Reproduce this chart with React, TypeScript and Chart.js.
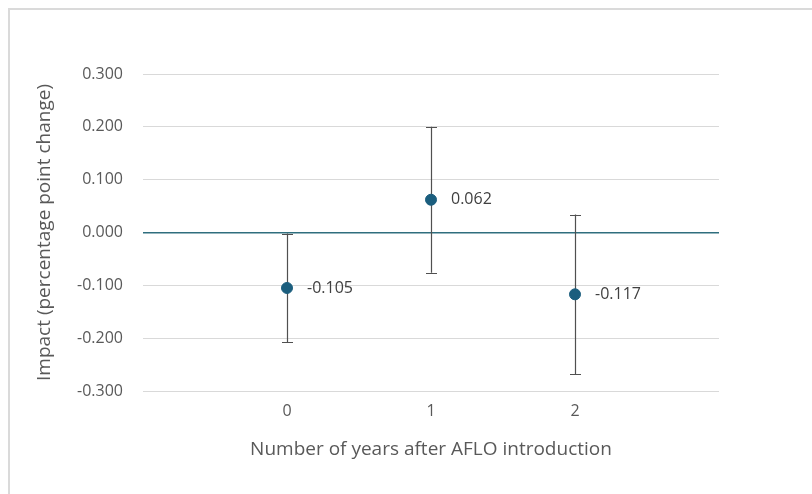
import React, { useEffect, useRef } from "react";
import { Chart, registerables } from "chart.js";

Chart.register(...registerables);

const years = [0, 1, 2];
const impact = [-0.105, 0.062, -0.117];
const errorHalfWidth = [0.103, 0.138, 0.151];
const yTicks = [-0.3, -0.2, -0.1, 0, 0.1, 0.2, 0.3];
const xTitle = "Number of years after AFLO introduction";
const yTitle = "Impact (percentage point change)";

const FONT = "'Open Sans', 'Noto Sans', sans-serif";
const POINT_COLOR = "#1B5E7E";
const ZERO_COLOR = "#2F6E7E";
const GRID_COLOR = "#D9D9D9";
const TEXT_COLOR = "#595959";

const errorBarPlugin = {
  id: "errorBars",
  beforeDatasetsDraw(chart: any) {
    const { ctx, scales } = chart;
    const xs = scales.x;
    const ys = scales.y;
    ctx.save();
    ctx.strokeStyle = "#505050";
    ctx.lineWidth = 1.2;
    years.forEach((x, i) => {
      const px = Math.round(xs.getPixelForValue(x)) + 0.5;
      const top = ys.getPixelForValue(impact[i] + errorHalfWidth[i]);
      const bot = ys.getPixelForValue(impact[i] - errorHalfWidth[i]);
      ctx.beginPath();
      ctx.moveTo(px, top);
      ctx.lineTo(px, bot);
      ctx.moveTo(px - 5.5, Math.round(top) + 0.5);
      ctx.lineTo(px + 5.5, Math.round(top) + 0.5);
      ctx.moveTo(px - 5.5, Math.round(bot) + 0.5);
      ctx.lineTo(px + 5.5, Math.round(bot) + 0.5);
      ctx.stroke();
    });
    ctx.restore();
  },
  afterDatasetsDraw(chart: any) {
    const { ctx, scales } = chart;
    ctx.save();
    ctx.fillStyle = "#404040";
    ctx.font = `16px ${FONT}`;
    ctx.textBaseline = "middle";
    ctx.textAlign = "left";
    years.forEach((x, i) => {
      const px = scales.x.getPixelForValue(x);
      const py = scales.y.getPixelForValue(impact[i]);
      ctx.fillText(impact[i].toFixed(3), px + 20, py);
    });
    ctx.restore();
  },
};

export default function App() {
  const ref = useRef<HTMLCanvasElement>(null);
  useEffect(() => {
    if (!ref.current) return;
    const chart = new Chart(ref.current, {
      type: "scatter",
      data: {
        datasets: [
          {
            data: years.map((x, i) => ({ x, y: impact[i] })),
            backgroundColor: POINT_COLOR,
            borderColor: POINT_COLOR,
            pointRadius: 5.5,
            pointHoverRadius: 5.5,
          },
        ],
      },
      options: {
        animation: false,
        responsive: false,
        devicePixelRatio: 1,
        layout: { padding: { top: 64, right: 93, left: 0, bottom: 0 } },
        plugins: {
          legend: { display: false },
          tooltip: { enabled: false },
        },
        scales: {
          x: {
            type: "linear",
            min: -1,
            max: 3,
            afterBuildTicks: (scale: any) => {
              scale.ticks = years.map((v) => ({ value: v }));
            },
            afterFit: (scale: any) => {
              scale.height = 103;
            },
            grid: { display: false, drawTicks: false },
            border: { display: false },
            ticks: {
              color: TEXT_COLOR,
              font: { family: FONT, size: 16 },
              padding: 11,
              callback: (v: any) => String(v),
            },
            title: {
              display: true,
              text: xTitle,
              color: TEXT_COLOR,
              font: { family: FONT, size: 19 },
              padding: { top: 0, bottom: 33 },
            },
          },
          y: {
            type: "linear",
            min: -0.3,
            max: 0.3,
            afterBuildTicks: (scale: any) => {
              scale.ticks = yTicks.map((v) => ({ value: v }));
            },
            afterFit: (scale: any) => {
              scale.width = 133;
            },
            grid: {
              drawTicks: false,
              color: (c: any) => (Math.abs(c.tick.value) < 1e-9 ? ZERO_COLOR : GRID_COLOR),
              lineWidth: (c: any) => (Math.abs(c.tick.value) < 1e-9 ? 1.5 : 1),
            },
            border: { display: false },
            ticks: {
              color: TEXT_COLOR,
              font: { family: FONT, size: 16 },
              padding: 20,
              callback: (v: any) => Number(v).toFixed(3),
            },
            title: {
              display: true,
              text: yTitle,
              color: TEXT_COLOR,
              font: { family: FONT, size: 19 },
              padding: { top: 23, bottom: 0 },
            },
          },
        },
      },
      plugins: [errorBarPlugin],
    });
    return () => chart.destroy();
  }, []);

  return (
    <div
      style={{
        position: "fixed",
        left: 8,
        top: 8,
        width: 804,
        height: 486,
        borderTop: "2px solid #DADADA",
        borderLeft: "2px solid #DADADA",
        background: "#fff",
      }}
    >
      <canvas ref={ref} width={802} height={484} style={{ display: "block" }} />
    </div>
  );
}
